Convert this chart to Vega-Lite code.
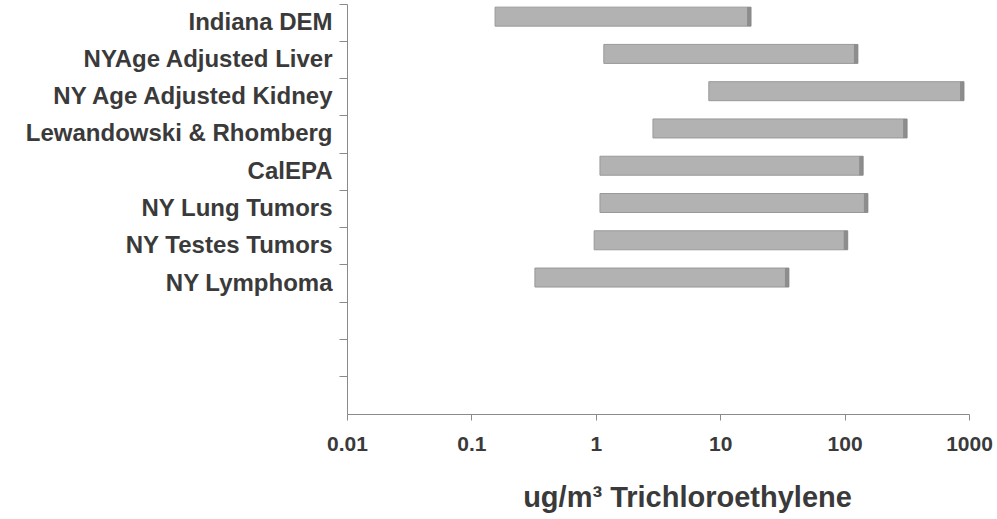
{
  "$schema": "https://vega.github.io/schema/vega-lite/v6.json",
  "width": 622,
  "height": 410,
  "autosize": {"type": "none"},
  "padding": {"left": 347, "top": 4, "right": 28, "bottom": 105},
  "background": "white",
  "config": {
    "view": {"stroke": null},
    "font": "Liberation Sans",
    "axis": {"grid": false, "domainColor": "#8a8a8a", "tickColor": "#8a8a8a", "labelFont": "Liberation Sans", "labelFontWeight": "bold", "labelColor": "#3a3a3a"}
  },
  "data": {
    "values": [
      {"study": "Indiana DEM", "lo": 0.155, "hi": 17.7},
      {"study": "NYAge Adjusted Liver", "lo": 1.16, "hi": 128},
      {"study": "NY Age Adjusted Kidney", "lo": 8.1, "hi": 912},
      {"study": "Lewandowski & Rhomberg", "lo": 2.88, "hi": 318},
      {"study": "CalEPA", "lo": 1.08, "hi": 141},
      {"study": "NY Lung Tumors", "lo": 1.08, "hi": 154},
      {"study": "NY Testes Tumors", "lo": 0.97, "hi": 106},
      {"study": "NY Lymphoma", "lo": 0.324, "hi": 35.7}
    ]
  },
  "layer": [
    {
      "mark": {"type": "bar", "size": 19, "yOffset": -6, "color": "#b2b2b2", "stroke": "#999999", "strokeWidth": 1},
      "encoding": {
        "y": {
          "field": "study",
          "type": "nominal",
          "scale": {
            "domain": ["Indiana DEM", "NYAge Adjusted Liver", "NY Age Adjusted Kidney", "Lewandowski & Rhomberg", "CalEPA", "NY Lung Tumors", "NY Testes Tumors", "NY Lymphoma", " ", "  ", "   "],
            "paddingInner": 0,
            "paddingOuter": 0
          },
          "axis": {
            "title": null,
            "bandPosition": 0,
            "tickSize": 8,
            "labelPadding": 7,
            "labelFontSize": 24,
            "labelLimit": 400
          }
        },
        "x": {
          "field": "lo",
          "type": "quantitative",
          "scale": {"type": "log", "domain": [0.01, 1000], "nice": false},
          "axis": {
            "values": [0.01, 0.1, 1, 10, 100, 1000],
            "format": "~g",
            "tickSize": 6,
            "labelFontSize": 21,
            "labelPadding": 13,
            "labelFlush": false,
            "title": "ug/m³ Trichloroethylene",
            "titleFont": "Liberation Sans",
            "titleFontSize": 29,
            "titleFontWeight": "bold",
            "titleColor": "#3a3a3a",
            "titlePadding": 29,
            "titleX": 340
          }
        },
        "x2": {"field": "hi"}
      }
    },
    {
      "mark": {"type": "tick", "thickness": 4, "size": 19, "yOffset": -6, "xOffset": -2, "color": "#7e7e7e"},
      "encoding": {
        "y": {"field": "study", "type": "nominal"},
        "x": {"field": "hi", "type": "quantitative"}
      }
    }
  ]
}
